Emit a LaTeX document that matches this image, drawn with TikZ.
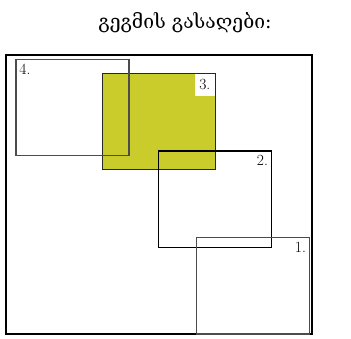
\documentclass[tikz,border=0pt]{standalone}
\usepackage{fontspec}
\newfontfamily\geofont{DejaVu Serif}
\definecolor{olive}{RGB}{202,204,44}
\begin{document}
\begin{tikzpicture}[x=1pt,y=-1pt,
  box/.style={draw, rectangle, minimum width=113pt, minimum height=96.3pt, inner sep=0pt, line width=1.2pt},
  lbl/.style={font=\fontsize{15.5}{17}\selectfont, inner sep=3pt, anchor=north east}]
\useasboundingbox (0,0) rectangle (351,338);
\node (title) at (185,23) {\geofont\fontsize{19.3}{22}\selectfont გეგმის გასაღები:};
\node[draw, line width=2pt, rectangle, minimum width=306pt, minimum height=279pt, inner sep=0pt] (frame) at (159,194.5) {};
\node[box, fill=olive, draw=black!85] (b3) at (158.7,121.5) {};
\node[box, draw=black!70] (b4) at (72.4,107.7) {};
\node[box, draw=black] (b2) at (215,199.2) {};
\node[box, draw=black!70] (b1) at (253,285.9) {};
\node[lbl, fill=white, minimum width=20.5pt, minimum height=22.8pt, inner sep=2pt, anchor=north east] (l3) at ([xshift=-0.6pt,yshift=-0.6pt]b3.north east) {3.};
\node[lbl] (l1) at ([xshift=-1pt,yshift=-2pt]b1.north east) {1.};
\node[lbl] (l2) at ([xshift=-1pt,yshift=-2pt]b2.north east) {2.};
\node[lbl, anchor=north west] (l4) at ([xshift=1pt,yshift=-2pt]b4.north west) {4.};
\end{tikzpicture}
\end{document}
